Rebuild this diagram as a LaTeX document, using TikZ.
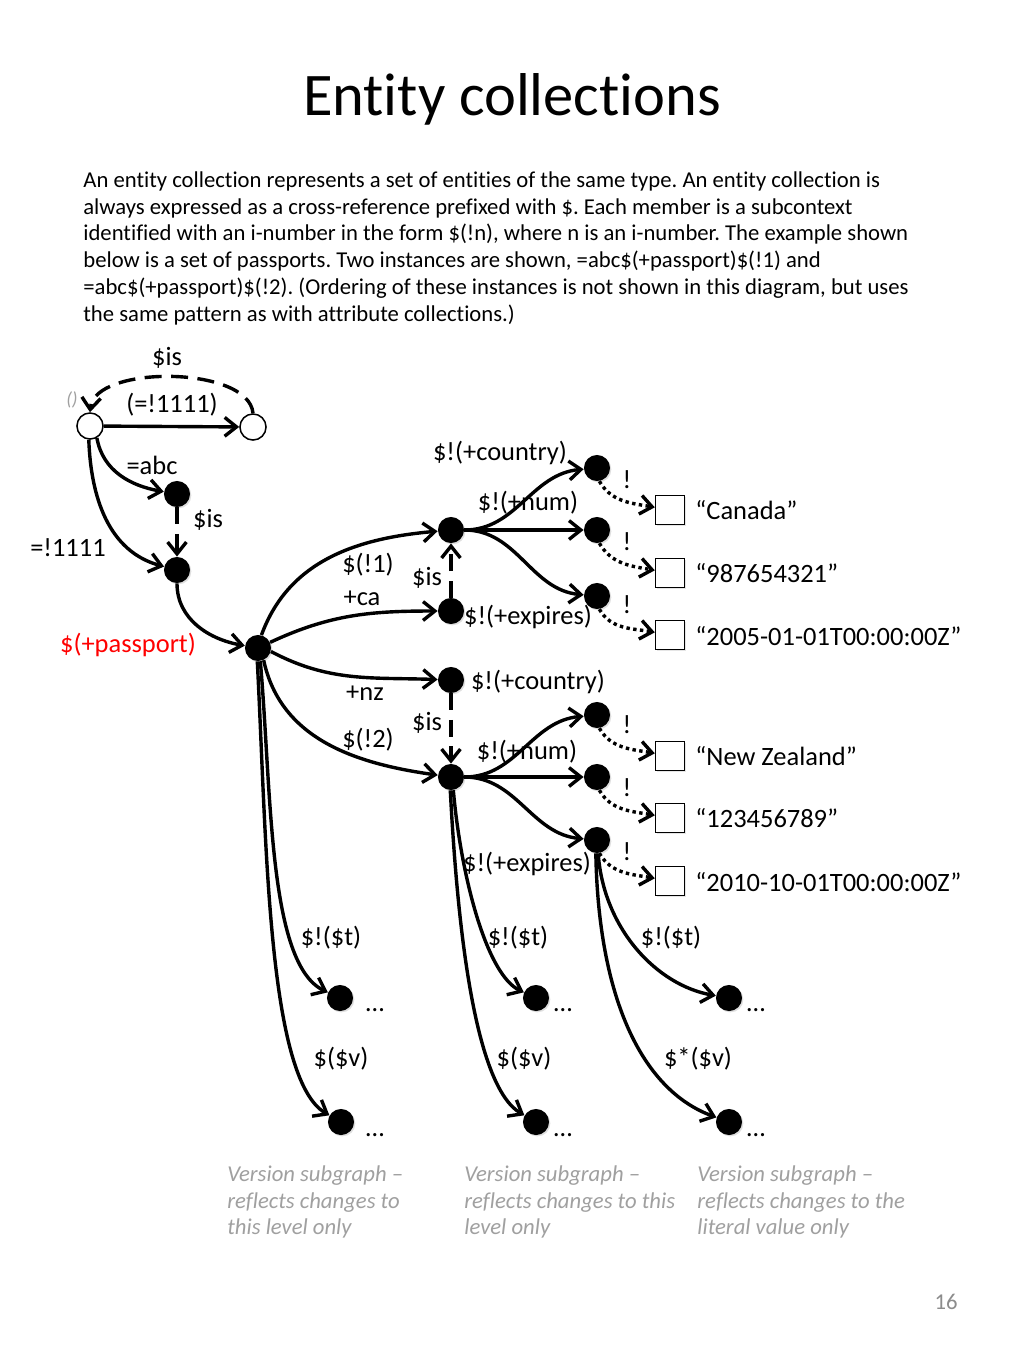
\documentclass[tikz,border=0pt]{standalone}
\usepackage{fontspec}
\setmainfont[Ligatures={NoCommon}]{Carlito}
\usetikzlibrary{arrows.meta,positioning,shadows}
\definecolor{ecred}{HTML}{FF0000}
\definecolor{ecgrey}{HTML}{A0A0A0}
\definecolor{ecpage}{HTML}{8C8C8C}
\frenchspacing

\begin{document}
\begin{tikzpicture}[x=0.018604cm,y=0.018604cm,
  dot/.style={circle,fill=black,inner sep=0pt,minimum size=13.8pt,
              drop shadow={shadow xshift=0.7pt,shadow yshift=-0.7pt,opacity=0.25}},
  hollow/.style={circle,draw=black,fill=white,line width=0.8pt,inner sep=0pt,
              minimum size=13.8pt},
  litbox/.style={rectangle,draw=black,fill=white,line width=0.6pt,inner sep=0pt,
              minimum size=15.5pt,
              drop shadow={shadow xshift=0.7pt,shadow yshift=-0.7pt,opacity=0.2}},
  lbl/.style={font=\fontsize{14}{17}\selectfont,inner sep=0pt},
  val/.style={lbl,anchor=west},
  note/.style={font=\fontsize{12}{14.23}\selectfont\itshape,text=ecgrey,
              align=left,anchor=north west,inner sep=0pt},
  arr/.style={-{Straight Barb[length=2.2mm,width=3.5mm]},line width=1.8pt},
  isarr/.style={arr,dash pattern=on 9pt off 5pt},
  valarr/.style={arr,dash pattern=on 1.8pt off 1.8pt}]
  \useasboundingbox[fill=white] (0,0) rectangle (1024,-1365);

  % title and intro
  \node[font=\fontsize{32}{38}\selectfont,anchor=base] (title) at (512,-115)
       {Entity collections};
  \node[font=\fontsize{12}{14.23}\selectfont,align=left,anchor=north west,
        inner sep=0pt] (intro) at (83,-171)
       {An entity collection represents a set of entities of the same type. An entity collection is\\
        always expressed as a cross-reference prefixed with \$. Each member is a subcontext\\
        identified with an i-number in the form \$(!n), where n is an i-number. The example shown\\
        below is a set of passports. Two instances are shown, =abc\$(+passport)\$(!1) and\\
        =abc\$(+passport)\$(!2). (Ordering of these instances is not shown in this diagram, but uses\\
        the same pattern as with attribute collections.)};

  % graph nodes
  \node[hollow] (root) at (90,-426) {};
  \node[hollow] (idref) at (253,-427) {};
  \node[dot] (abc) at (177,-494) {};
  \node[dot] (ent) at (177,-570) {};
  \node[dot] (pass) at (258,-648) {};
  \node[dot] (pp1) at (451,-530) {};
  \node[dot] (ca) at (451,-611) {};
  \node[dot] (cty1) at (597,-468) {};
  \node[dot] (num1) at (597,-530) {};
  \node[dot] (exp1) at (597,-596) {};
  \node[litbox] (lit1) at (670,-510) {};
  \node[litbox] (lit2) at (670,-573) {};
  \node[litbox] (lit3) at (670,-635) {};
  \node[dot] (nz) at (451,-680) {};
  \node[dot] (pp2) at (451,-777) {};
  \node[dot] (cty2) at (597,-715) {};
  \node[dot] (num2) at (597,-777) {};
  \node[dot] (exp2) at (597,-840) {};
  \node[litbox] (lit4) at (670,-756) {};
  \node[litbox] (lit5) at (670,-818) {};
  \node[litbox] (lit6) at (670,-881) {};
  \node[dot] (ver1t) at (340,-998) {};
  \node[dot] (ver1v) at (341,-1122) {};
  \node[dot] (ver2t) at (536,-998) {};
  \node[dot] (ver2v) at (536,-1122) {};
  \node[dot] (ver3t) at (729,-998) {};
  \node[dot] (ver3v) at (729,-1122) {};

  % top part
  \draw[arr] (root) -- (idref);
  \draw[isarr] (idref.north) to[out=95,in=85,looseness=0.75] (root.north);
  \draw[arr] (root.-60) to[out=-80,in=170] (abc);
  \draw[arr] (root.-95) to[out=-88,in=165] (ent);
  \draw[isarr] (abc) -- (ent);
  \draw[arr] (ent) to[out=-90,in=170] (pass);

  % members of the collection
  \draw[arr] (pass.75) to[out=70,in=185] (pp1);
  \draw[arr] (pass.25) to[out=25,in=180] (ca);
  \draw[arr] (pass.-15) to[out=-28,in=178] (nz);
  \draw[arr] (pass.-65) to[out=-78,in=172] (pp2);
  \draw[isarr] (ca) -- (pp1);
  \draw[isarr] (nz) -- (pp2);

  % attributes
  \draw[arr] (pp1) to[out=0,in=185] (cty1);
  \draw[arr] (pp1) -- (num1);
  \draw[arr] (pp1) to[out=0,in=175] (exp1);
  \draw[arr] (pp2) to[out=0,in=185] (cty2);
  \draw[arr] (pp2) -- (num2);
  \draw[arr] (pp2) to[out=0,in=175] (exp2);
  \draw[valarr] (cty1.-80) to[out=-60,in=170] (lit1);
  \draw[valarr] (num1.-80) to[out=-60,in=170] (lit2);
  \draw[valarr] (exp1.-80) to[out=-60,in=170] (lit3);
  \draw[valarr] (cty2.-80) to[out=-60,in=170] (lit4);
  \draw[valarr] (num2.-80) to[out=-60,in=170] (lit5);
  \draw[valarr] (exp2.-80) to[out=-60,in=170] (lit6);

  % version subgraphs
  \draw[arr] (pass.-80) to[out=-85,in=155,in looseness=0.5] (ver1t);
  \draw[arr] (pass.-93) to[out=-87,in=150,in looseness=0.4] (ver1v);
  \draw[arr] (pp2.-80) to[out=-85,in=155,in looseness=0.5] (ver2t);
  \draw[arr] (pp2.-93) to[out=-87,in=150,in looseness=0.45] (ver2v);
  \draw[arr] (exp2.-85) to[out=-86,in=170,out looseness=1.05,in looseness=0.83] (ver3t);
  \draw[arr] (exp2.-95) to[out=-89,in=160,out looseness=1.27,in looseness=0.7] (ver3v);

  % labels
  \node[lbl] (is0) at (167,-358) {\$is};
  \node[font=\fontsize{10}{12}\selectfont\itshape,text=ecgrey,inner sep=0pt]
       (ctx) at (72,-400) {()};
  \node[lbl] (idlbl) at (172,-405) {(=!1111)};
  \node[lbl] (abclbl) at (152,-465) {=abc};
  \node[lbl] (is1) at (208,-520) {\$is};
  \node[lbl] (entlbl) at (68,-548) {=!1111};
  \node[lbl,text=ecred] (passlbl) at (128,-645) {\$(+passport)};
  \node[lbl] (cty1lbl) at (500,-453) {\$!(+country)};
  \node[lbl] (num1lbl) at (528,-503) {\$!(+num)};
  \node[lbl] (pp1lbl) at (368,-565) {\$(!1)};
  \node[lbl] (calbl) at (362,-598) {+ca};
  \node[lbl] (is2) at (427,-578) {\$is};
  \node[lbl] (exp1lbl) at (528,-617) {\$!(+expires)};
  \node[lbl] (nzlbl) at (365,-693) {+nz};
  \node[lbl] (cty2lbl) at (538,-682) {\$!(+country)};
  \node[lbl] (is3) at (427,-723) {\$is};
  \node[lbl] (pp2lbl) at (368,-740) {\$(!2)};
  \node[lbl] (num2lbl) at (527,-752) {\$!(+num)};
  \node[lbl] (exp2lbl) at (527,-864) {\$!(+expires)};
  \node[lbl] (bang1) at (627,-480) {!};
  \node[lbl] (bang2) at (627,-542) {!};
  \node[lbl] (bang3) at (627,-605) {!};
  \node[lbl] (bang4) at (627,-725) {!};
  \node[lbl] (bang5) at (627,-788) {!};
  \node[lbl] (bang6) at (627,-852) {!};
  \node[val] (val1) at (695,-510) {“Canada”};
  \node[val] (val2) at (695,-573) {“987654321”};
  \node[val] (val3) at (695,-636) {“2005-01-01T00:00:00Z”};
  \node[val] (val4) at (695,-756) {“New Zealand”};
  \node[val] (val5) at (695,-818) {“123456789”};
  \node[val] (val6) at (695,-882) {“2010-10-01T00:00:00Z”};
  \node[lbl] (t1lbl) at (331,-938) {\$!(\$t)};
  \node[lbl] (t2lbl) at (518,-938) {\$!(\$t)};
  \node[lbl] (t3lbl) at (671,-938) {\$!(\$t)};
  \node[lbl] (v1lbl) at (341,-1059) {\$(\$v)};
  \node[lbl] (v2lbl) at (524,-1059) {\$(\$v)};
  \node[lbl] (v3lbl) at (698,-1059) {\$*(\$v)};
  \node[lbl] (more1) at (375,-1010) {…};
  \node[lbl] (more2) at (563,-1010) {…};
  \node[lbl] (more3) at (756,-1010) {…};
  \node[lbl] (more4) at (375,-1135) {…};
  \node[lbl] (more5) at (563,-1135) {…};
  \node[lbl] (more6) at (756,-1135) {…};

  % notes
  \node[note] (note1) at (227,-1165)
       {Version subgraph –\\reflects changes to\\this level only};
  \node[note] (note2) at (464,-1165)
       {Version subgraph –\\reflects changes to this\\level only};
  \node[note] (note3) at (697,-1165)
       {Version subgraph –\\reflects changes to the\\literal value only};
  \node[font=\fontsize{12}{14}\selectfont,text=ecpage] (page) at (946,-1302) {16};
\end{tikzpicture}
\end{document}
